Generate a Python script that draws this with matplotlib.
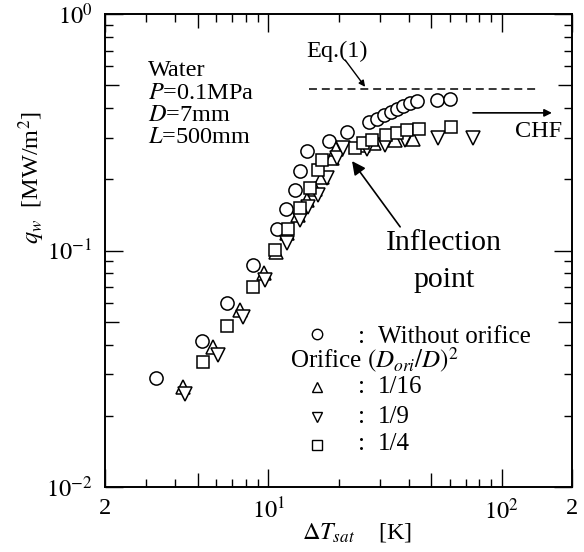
import numpy as np
import matplotlib
matplotlib.use("Agg")
import matplotlib.pyplot as plt
from matplotlib.ticker import LogLocator, NullFormatter

plt.rcParams['font.family'] = ['Liberation Serif', 'DejaVu Serif']
plt.rcParams['mathtext.fontset'] = 'stix'

# wall heat flux vs wall superheat
dT_none = [3.30, 5.19, 6.68, 8.58, 10.87, 11.96, 13.02, 13.7, 14.66, 18.26, 21.8,
           27.0, 29.1, 31.3, 33.5, 35.7, 37.9, 40.5, 43.2, 53.0, 60.0]
q_none = [0.0288, 0.0416, 0.0601, 0.0866, 0.1236, 0.150, 0.181, 0.217, 0.263, 0.290, 0.316,
          0.348, 0.360, 0.374, 0.384, 0.395, 0.408, 0.419, 0.429, 0.433, 0.437]

dT_16 = [4.30, 5.82, 7.57, 9.59, 10.85, 12.07, 13.45, 14.62, 15.86, 16.94, 18.71, 19.51,
         25.5, 28.4, 34.9, 41.8]
q_16 = [0.0265, 0.0390, 0.0560, 0.0800, 0.0981, 0.1182, 0.1413, 0.1635, 0.1815, 0.2051, 0.2454, 0.268,
        0.279, 0.2857, 0.2933, 0.2953]

dT_9 = [4.40, 6.11, 7.78, 9.69, 12.07, 13.68, 14.85, 16.39, 17.81, 19.65, 20.84,
        26.4, 31.6, 38.5, 53.5, 75.6]
q_9 = [0.0247, 0.0362, 0.0522, 0.0750, 0.1072, 0.1346, 0.1532, 0.1717, 0.2020, 0.2454, 0.2705,
       0.268, 0.279, 0.2933, 0.298, 0.298]

dT_4 = [5.27, 6.68, 8.63, 10.74, 12.15, 13.68, 15.1, 16.34, 17.0, 23.5, 25.4, 27.7,
        31.9, 35.5, 39.4, 44.2, 60.6]
q_4 = [0.0337, 0.0481, 0.0699, 0.1005, 0.1233, 0.1512, 0.184, 0.219, 0.241, 0.2705, 0.284, 0.2935,
       0.308, 0.315, 0.323, 0.3265, 0.334]

# Eq.(1) level
eq1_dT = [14.9, 143.0]
eq1_q = [0.482, 0.482]

xticks = [2, 10, 100, 200]
xticklabels = ['2', '$10^1$', '$10^2$', '2']
yticks = [0.01, 0.1, 1.0]
yticklabels = ['$10^{-2}$', '$10^{-1}$', '$10^0$']

fig = plt.figure(figsize=(5.84, 5.52), dpi=100)
ax = fig.add_axes([105/584, 1-487/552, 467/584, 473/552])
ax.set_xscale('log')
ax.set_yscale('log')
ax.set_xlim(2, 200)
ax.set_ylim(0.01, 1.0)

mk = dict(linestyle='none', mfc='white', mec='black', mew=1.1, ms=9.5, clip_on=False)
ax.plot(dT_none, q_none, marker='o', **mk)
ax.plot(dT_16, q_16, marker='^', **mk)
ax.plot(dT_9, q_9, marker='v', **mk)
ax.plot(dT_4, q_4, marker='s', **dict(mk, ms=9))

ax.plot(eq1_dT, eq1_q, color='black', lw=1.1, dashes=(5.2, 3.2))

for s in ax.spines.values():
    s.set_linewidth(1.4)

ax.set_xticks(xticks, xticklabels)
ax.set_yticks(yticks, yticklabels)
ax.xaxis.set_minor_locator(LogLocator(base=10, subs=np.arange(2, 10), numticks=20))
ax.yaxis.set_minor_locator(LogLocator(base=10, subs=np.arange(2, 10), numticks=20))
ax.xaxis.set_minor_formatter(NullFormatter())
ax.yaxis.set_minor_formatter(NullFormatter())
ax.tick_params(which='both', direction='in', top=True, right=True, width=1.0)
ax.tick_params(which='major', length=13, labelsize=17.5)
ax.tick_params(which='minor', length=6)
ax.tick_params(axis='x', which='major', pad=8)
ax.tick_params(axis='y', which='major', pad=9)

# longer ticks at the 5s
for axis in (ax.xaxis, ax.yaxis):
    locs = axis.get_minorticklocs()
    for t, v in zip(axis.get_minor_ticks(len(locs)), locs):
        m = v / 10 ** np.floor(np.log10(v) + 1e-9)
        if abs(m - 5) < 1e-6:
            t.tick1line.set_markersize(10)
            t.tick2line.set_markersize(10)

ax.set_xlabel(r'$\Delta T_{sat}$    [K]', fontsize=17.5, va='center')
ax.xaxis.set_label_coords(0.54, -0.097)
ax.set_ylabel(r'$q_w$  [MW/m$^2$]', fontsize=17.5, va='center')
ax.yaxis.set_label_coords(-0.156, 0.655)

fs = 17.5
tr = ax.transAxes
ax.text(0.092, 0.869, 'Water', fontsize=fs, transform=tr)
ax.text(0.092, 0.820, '$P$=0.1MPa', fontsize=fs, transform=tr)
ax.text(0.092, 0.774, '$D$=7mm', fontsize=fs, transform=tr)
ax.text(0.092, 0.727, '$L$=500mm', fontsize=fs, transform=tr)

ax.text(0.430, 0.909, 'Eq.(1)', fontsize=fs, transform=tr)
ax.annotate('', xy=(0.557, 0.846), xytext=(0.514, 0.903), xycoords=tr, textcoords=tr,
            arrowprops=dict(arrowstyle='-|>', color='black', lw=1.0,
                            mutation_scale=9, shrinkA=0, shrinkB=0))

ax.text(0.878, 0.740, 'CHF', fontsize=fs, transform=tr)
ax.annotate('', xy=(0.957, 0.791), xytext=(0.788, 0.791), xycoords=tr, textcoords=tr,
            arrowprops=dict(arrowstyle='-|>', color='black', lw=1.2,
                            mutation_scale=11, shrinkA=0, shrinkB=0))

ax.text(0.726, 0.501, 'Inflection', fontsize=21.5, ha='center', transform=tr)
ax.text(0.726, 0.423, 'point', fontsize=21.5, ha='center', transform=tr)
ax.annotate('', xy=(0.529, 0.689), xytext=(0.632, 0.550), xycoords=tr, textcoords=tr,
            arrowprops=dict(arrowstyle='-|>', color='black', lw=1.2,
                            mutation_scale=20, shrinkA=0, shrinkB=0))

# legend written out by hand
lfs = 18
lmk = dict(linestyle='none', mfc='white', mec='black', mew=1.0, ms=7.5, transform=tr)
ax.plot([0.454], [0.3235], marker='o', **lmk)
ax.text(0.5418, 0.3044, ':', fontsize=lfs, transform=tr)
ax.text(0.5846, 0.3044, 'Without orifice', fontsize=lfs, transform=tr)
ax.text(0.396, 0.250, r'Orifice $(D_{ori}/D)^2$', fontsize=lfs, transform=tr)
rows = [('^', 0.2114, 0.1990, '1/16'), ('v', 0.148, 0.1353, '1/9'), ('s', 0.0888, 0.0782, '1/4')]
for m, ym, yt, lab in rows:
    ax.plot([0.454], [ym], marker=m, **lmk)
    ax.text(0.5418, yt, ':', fontsize=lfs, transform=tr)
    ax.text(0.5846, yt, lab, fontsize=lfs, transform=tr)

fig.savefig('out.png', dpi=100)
